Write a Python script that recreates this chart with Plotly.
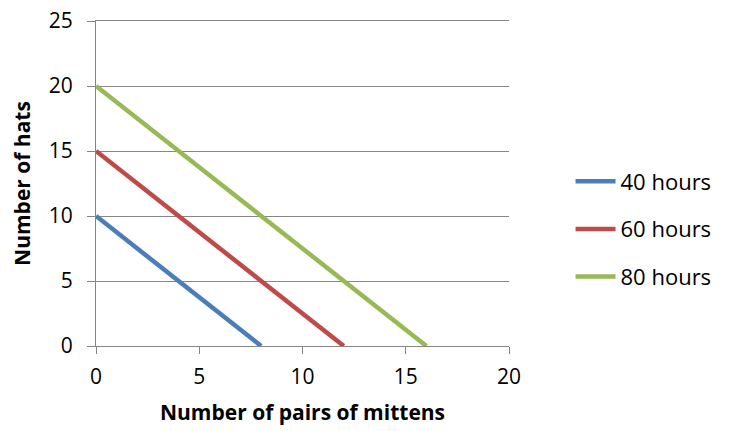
import plotly.graph_objects as go

series_names = ["40 hours", "60 hours", "80 hours"]
mittens = [[0, 8], [0, 12], [0, 16]]
hats = [[10, 0], [15, 0], [20, 0]]
colors = ["#4A7EBB", "#BE4B48", "#98B954"]

x_ticks = [0, 5, 10, 15, 20]
y_ticks = [0, 5, 10, 15, 20, 25]

FONT = "Open Sans, sans-serif"
GRID = "#868686"

fig = go.Figure()
for name, xs, ys, c in zip(series_names, mittens, hats, colors):
    fig.add_trace(go.Scatter(x=xs, y=ys, mode="lines", name=name, legendgroup=name,
                             line=dict(color=c, width=4.5)))

fig.update_layout(
    width=721, height=423,
    margin=dict(l=88, r=220, t=13, b=85, autoexpand=False),
    paper_bgcolor="white", plot_bgcolor="white",
    font=dict(family=FONT, size=21, color="black"),
    showlegend=True,
    legend=dict(x=1.149, y=0.36, xanchor="left", yanchor="middle",
                tracegroupgap=16, font=dict(size=22, family=FONT),
                itemwidth=40),
    xaxis=dict(range=[0, 20], tickvals=x_ticks, showgrid=False, zeroline=False,
               showline=True, mirror=True, linecolor=GRID, linewidth=1,
               ticks="outside", ticklen=7, tickcolor=GRID, automargin=False,
               ticklabeloverflow="allow", ticklabelstandoff=5,
               title=dict(text="<b>Number of pairs of mittens</b>", standoff=16,
                          font=dict(size=21, family=FONT))),
    yaxis=dict(range=[0, 25], tickvals=y_ticks, showgrid=True, gridcolor=GRID, gridwidth=1,
               zeroline=False, showline=True, linecolor=GRID, linewidth=1,
               ticks="outside", ticklen=8, tickcolor=GRID, automargin=False,
               ticklabeloverflow="allow", ticklabelstandoff=10,
               title=dict(text="<b>Number of hats</b>", standoff=18,
                          font=dict(size=21, family=FONT))),
)

fig.write_html("out.html")
